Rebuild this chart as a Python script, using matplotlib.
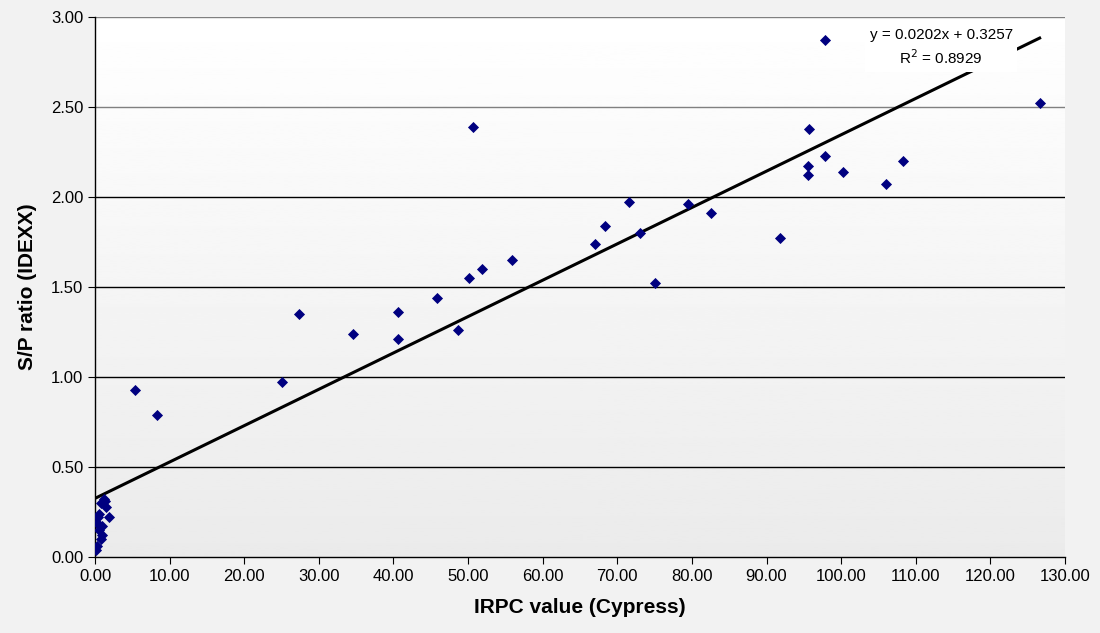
import matplotlib.pyplot as plt
import numpy as np

plt.rcParams['font.family'] = ['Liberation Sans', 'DejaVu Sans']

# IRPC value (Cypress) vs S/P ratio (IDEXX)
irpc = [97.8, 126.6, 50.7, 95.7, 97.8, 108.3, 95.5, 95.6, 100.2, 106.0,
        71.5, 79.5, 82.6, 68.3, 73.0, 67.0, 91.8, 75.1,
        55.9, 51.8, 50.1, 45.9, 40.6, 40.6, 48.6, 34.6, 27.4, 25.0, 5.3, 8.3,
        0.3, 0.2, 0.4, 0.5, 0.8, 1.2, 1.5, 0.6, 1.0, 0.5, 1.9, 0.9, 0.8, 1.3, 0.3]
sp_ratio = [2.87, 2.52, 2.39, 2.38, 2.23, 2.20, 2.17, 2.12, 2.14, 2.07,
            1.97, 1.96, 1.91, 1.84, 1.80, 1.74, 1.77, 1.52,
            1.65, 1.60, 1.55, 1.44, 1.36, 1.21, 1.26, 1.24, 1.35, 0.97, 0.93, 0.79,
            0.06, 0.04, 0.22, 0.24, 0.30, 0.32, 0.28, 0.18, 0.17, 0.15, 0.22, 0.12, 0.10, 0.31, 0.19]

slope = 0.0202
intercept = 0.3257
r2 = 0.8929

fig = plt.figure(figsize=(11, 6.33), dpi=100)
fig.patch.set_facecolor('#f2f2f2')
ax = fig.add_axes([95/1100, 1 - 557/633, 970/1100, 540/633])

# gradient background, white at top to light grey at bottom
grad = np.linspace(1.0, 0.92, 256).reshape(-1, 1)
ax.imshow(grad, extent=[0, 130, 0, 3], aspect='auto', cmap='gray', vmin=0, vmax=1,
          origin='upper', zorder=0)

for yv in np.arange(0.5, 3.01, 0.5):
    ax.axhline(yv, color='#000000' if yv < 2.25 else '#808080', lw=1, zorder=1)

ax.scatter(irpc, sp_ratio, marker='D', s=32, color='#000080', zorder=3, linewidths=0)

xs = np.array([0, max(irpc)])
ax.plot(xs, slope * xs + intercept, color='black', lw=2.2, zorder=2)

ax.text(113.4, 2.83, 'y = 0.0202x + 0.3257\nR$^2$ = 0.8929', ha='center', va='center',
        fontsize=11, linespacing=1.45, zorder=4,
        bbox=dict(facecolor='white', edgecolor='none', pad=3))

ax.set_xlim(0, 130)
ax.set_ylim(0, 3)
ax.set_xticks(np.arange(0, 131, 10))
ax.set_xticklabels(['%.2f' % v for v in np.arange(0, 131, 10)])
ax.set_yticks(np.arange(0, 3.01, 0.5))
ax.set_yticklabels(['%.2f' % v for v in np.arange(0, 3.01, 0.5)])
ax.tick_params(direction='out', length=5, labelsize=12, colors='black')
for s in ['top', 'right']:
    ax.spines[s].set_visible(False)
ax.spines['left'].set_linewidth(1)
ax.spines['bottom'].set_linewidth(1)

ax.set_xlabel('IRPC value (Cypress)', fontsize=15, fontweight='bold', labelpad=10)
ax.set_ylabel('S/P ratio (IDEXX)', fontsize=15, fontweight='bold', labelpad=10)

fig.savefig('out.png', dpi=100, facecolor=fig.get_facecolor())
